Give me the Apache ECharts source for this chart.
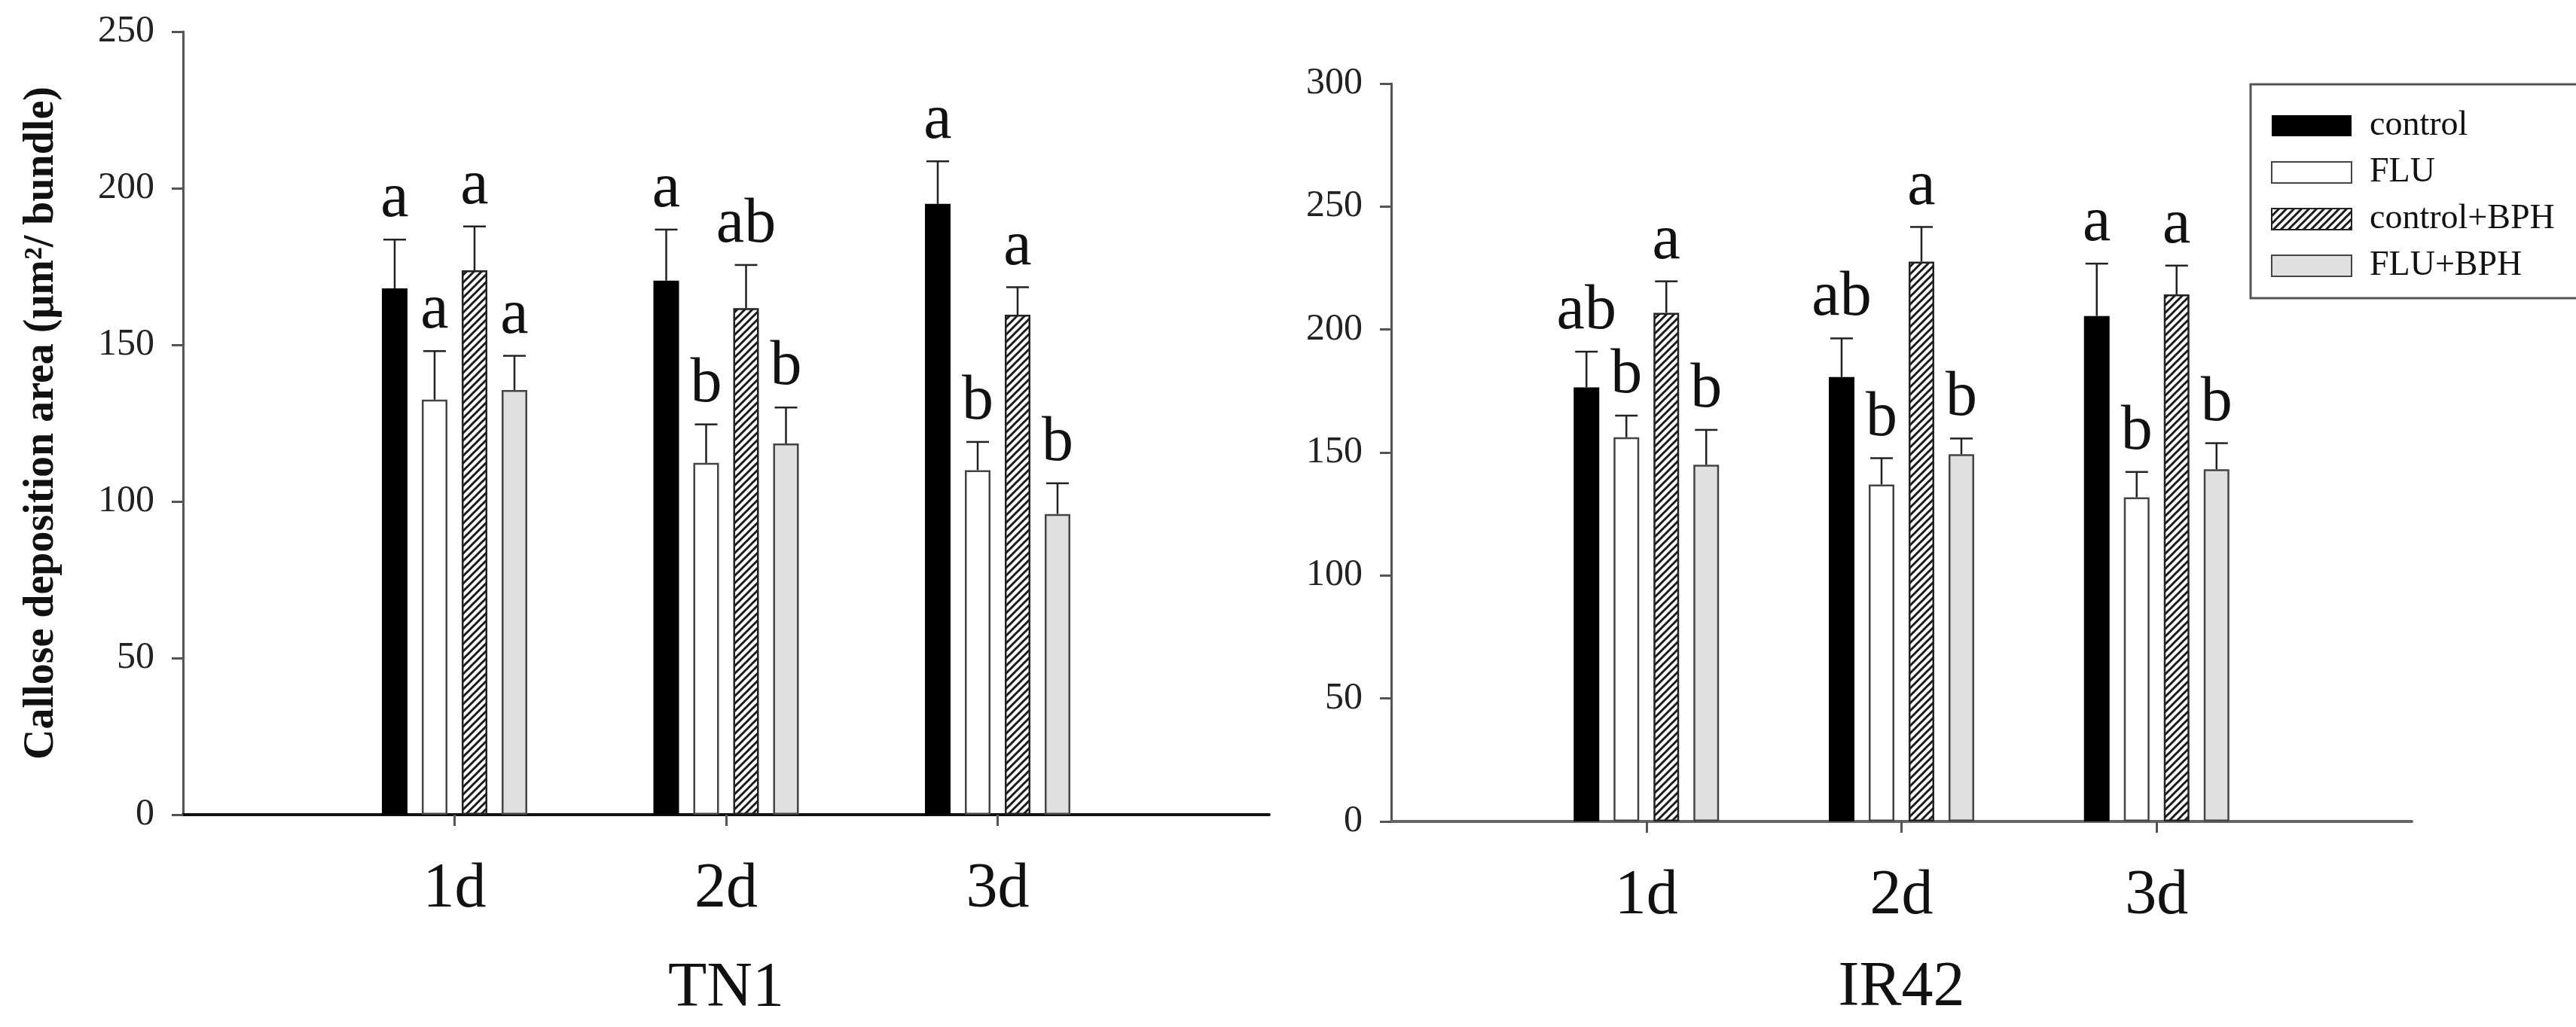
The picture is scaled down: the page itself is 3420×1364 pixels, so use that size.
<!DOCTYPE html>
<html>
<head>
<meta charset="utf-8">
<title>Callose deposition area</title>
<script src="https://cdn.jsdelivr.net/npm/echarts@6/dist/echarts.min.js"></script>
<style>
  html, body { margin: 0; padding: 0; background: #fff; }
  #chart { width: 3420px; height: 1364px; }
</style>
</head>
<body>
<div id="chart"></div>
<script>
// Categories
const days = ["1d", "2d", "3d"];
const treatments = ["control", "FLU", "control+BPH", "FLU+BPH"];

// TN1 means and standard errors (control, FLU, control+BPH, FLU+BPH) per day
const tn1Control = [168, 170.5, 195];
const tn1Flu = [132.5, 112.3, 110];
const tn1ControlBph = [173.8, 161.7, 159.6];
const tn1FluBph = [135.6, 118.5, 96];
const tn1ControlErr = [15.6, 16.3, 13.6];
const tn1FluErr = [15.5, 12.3, 9];
const tn1ControlBphErr = [14, 13.8, 8.8];
const tn1FluBphErr = [10.9, 11.5, 9.8];
const tn1ControlLetters = ["a", "a", "a"];
const tn1FluLetters = ["a", "b", "b"];
const tn1ControlBphLetters = ["a", "ab", "a"];
const tn1FluBphLetters = ["a", "b", "b"];

// IR42 means and standard errors
const ir42Control = [176.5, 180.7, 205.5];
const ir42Flu = [156.2, 137, 131.8];
const ir42ControlBph = [206.8, 227.6, 214.3];
const ir42FluBph = [145, 149.3, 143.2];
const ir42ControlErr = [14.5, 15.7, 21.3];
const ir42FluErr = [8.8, 10.7, 10.3];
const ir42ControlBphErr = [12.8, 14.1, 11.7];
const ir42FluBphErr = [14.2, 6.4, 10.6];
const ir42ControlLetters = ["ab", "ab", "a"];
const ir42FluLetters = ["b", "b", "b"];
const ir42ControlBphLetters = ["a", "a", "a"];
const ir42FluBphLetters = ["b", "b", "b"];

// Y axis ticks
const tn1YMax = 250;
const ir42YMax = 300;
const yStep = 50;

const FONT = "'Liberation Serif', 'Times New Roman', serif";
const BAR_W = 34;
const BAR_GAP = 19;

// empty slots at both ends so the three days sit at 1/4, 1/2, 3/4 of the axis
const slots = [""].concat(days, [""]);

/**
 * Diagonal hatch used for control+BPH
 */
function hatchPattern() {
  const size = 10;
  const c = document.createElement("canvas");
  c.width = size;
  c.height = size;
  const ctx = c.getContext("2d");
  ctx.fillStyle = "#fff";
  ctx.fillRect(0, 0, size, size);
  ctx.strokeStyle = "#1a1a1a";
  ctx.lineWidth = 3;
  ctx.beginPath();
  ctx.moveTo(-2, size + 2);
  ctx.lineTo(size + 2, -2);
  ctx.moveTo(-2, 2);
  ctx.lineTo(2, -2);
  ctx.moveTo(size - 2, size + 2);
  ctx.lineTo(size + 2, size - 2);
  ctx.stroke();
  return { image: c, repeat: "repeat" };
}

const styles = [
  { color: "#000", borderColor: "#000", borderWidth: 0 },
  { color: "#fff", borderColor: "#444", borderWidth: 2.5 },
  { color: hatchPattern(), borderColor: "#222", borderWidth: 2.5 },
  { color: "#e0e0e0", borderColor: "#444", borderWidth: 2.5 },
];

function padSlots(values) {
  return ["-"].concat(values, ["-"]);
}

function barSeries(gridIndex, groups) {
  return groups.map((vals, i) => ({
    name: treatments[i],
    type: "bar",
    xAxisIndex: gridIndex,
    yAxisIndex: gridIndex,
    barWidth: BAR_W,
    barGap: (BAR_GAP / BAR_W) * 100 + "%",
    itemStyle: styles[i],
    emphasis: { disabled: true },
    data: padSlots(vals),
  }));
}

/**
 * Upper error bars and significance letters drawn as one custom series
 */
function errorSeries(gridIndex, means, errs, letters) {
  const data = [];
  means.forEach((vals, t) => {
    vals.forEach((v, d) => {
      data.push([d + 1, t, v, v + errs[t][d], letters[t][d]]);
    });
  });
  return {
    type: "custom",
    xAxisIndex: gridIndex,
    yAxisIndex: gridIndex,
    silent: true,
    z: 5,
    data: data,
    renderItem: (params, api) => {
      const dx = (api.value(1) - 1.5) * (BAR_W + BAR_GAP);
      const base = api.coord([api.value(0), api.value(2)]);
      const top = api.coord([api.value(0), api.value(3)]);
      const x = base[0] + dx;
      const capHalf = 15;
      const line = { stroke: "#222", lineWidth: 2.5 };
      return {
        type: "group",
        children: [
          { type: "line", shape: { x1: x, y1: base[1], x2: x, y2: top[1] }, style: line },
          { type: "line", shape: { x1: x - capHalf, y1: top[1], x2: x + capHalf, y2: top[1] }, style: line },
          {
            type: "text",
            style: {
              x: x,
              y: top[1] - 11,
              text: data[params.dataIndex][4],
              font: "84px " + FONT,
              fill: "#111",
              align: "center",
              verticalAlign: "bottom",
            },
          },
        ],
      };
    },
  };
}

function xAxis(gridIndex, name, nameGap, lineColor) {
  return {
    type: "category",
    gridIndex: gridIndex,
    data: slots,
    boundaryGap: false,
    name: name,
    nameLocation: "middle",
    nameGap: nameGap,
    nameTextStyle: { fontFamily: FONT, fontSize: 84, color: "#111" },
    axisLine: { lineStyle: { color: lineColor, width: 4 } },
    axisTick: {
      length: 15,
      interval: (i) => i >= 1 && i <= days.length,
      lineStyle: { color: "#555", width: 3 },
    },
    axisLabel: {
      interval: 0,
      margin: 58,
      fontFamily: FONT,
      fontSize: 84,
      color: "#111",
    },
    splitLine: { show: false },
  };
}

function yAxis(gridIndex, max, name) {
  return {
    type: "value",
    gridIndex: gridIndex,
    min: 0,
    max: max,
    interval: yStep,
    name: name,
    nameLocation: "middle",
    nameGap: 159,
    nameTextStyle: {
      fontFamily: FONT,
      fontWeight: "bold",
      fontSize: 56,
      color: "#111",
    },
    axisLine: { show: true, lineStyle: { color: "#555", width: 3 } },
    axisTick: { show: true, length: 15, lineStyle: { color: "#555", width: 3 } },
    axisLabel: {
      margin: 38,
      fontFamily: FONT,
      fontSize: 50,
      color: "#222",
    },
    splitLine: { show: false },
  };
}

function createChart() {
  const chart = echarts.init(document.getElementById("chart"), null, {
    renderer: "canvas",
  });

  const tn1Means = [tn1Control, tn1Flu, tn1ControlBph, tn1FluBph];
  const tn1Errs = [tn1ControlErr, tn1FluErr, tn1ControlBphErr, tn1FluBphErr];
  const tn1Letters = [tn1ControlLetters, tn1FluLetters, tn1ControlBphLetters, tn1FluBphLetters];
  const ir42Means = [ir42Control, ir42Flu, ir42ControlBph, ir42FluBph];
  const ir42Errs = [ir42ControlErr, ir42FluErr, ir42ControlBphErr, ir42FluBphErr];
  const ir42Letters = [ir42ControlLetters, ir42FluLetters, ir42ControlBphLetters, ir42FluBphLetters];

  const option = {
    backgroundColor: "#fff",
    animation: false,
    grid: [
      { left: 243, top: 42, width: 1442, height: 1040 },
      { left: 1847, top: 111, width: 1355, height: 980 },
    ],
    xAxis: [
      xAxis(0, "TN1", 190, "#111"),
      xAxis(1, "IR42", 180, "#666"),
    ],
    yAxis: [
      yAxis(0, tn1YMax, "Callose deposition area (μm²/ bundle)"),
      yAxis(1, ir42YMax, ""),
    ],
    legend: {
      data: treatments,
      orient: "vertical",
      left: 2988,
      top: 112,
      padding: [32, 38, 20, 27],
      itemGap: 16,
      itemWidth: 106,
      itemHeight: 28,
      borderColor: "#555",
      borderWidth: 3,
      icon: "rect",
      selectedMode: false,
      textStyle: {
        fontFamily: FONT,
        fontSize: 46,
        color: "#111",
        padding: [0, 0, 0, 19],
      },
    },
    series: [].concat(
      barSeries(0, tn1Means),
      barSeries(1, ir42Means),
      [errorSeries(0, tn1Means, tn1Errs, tn1Letters), errorSeries(1, ir42Means, ir42Errs, ir42Letters)]
    ),
  };

  chart.setOption(option);
  return chart;
}

document.addEventListener("DOMContentLoaded", createChart);
</script>
</body>
</html>
